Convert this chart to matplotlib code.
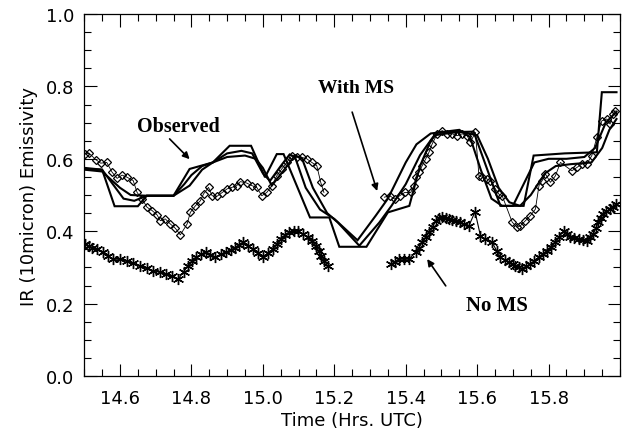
import matplotlib
matplotlib.use("Agg")
import matplotlib.pyplot as plt
from matplotlib.ticker import MultipleLocator, FormatStrFormatter

# observed emissivity (diamonds), two flight legs
obs1_t = [14.502, 14.513, 14.532, 14.546, 14.563, 14.578, 14.592, 14.606, 14.620, 14.637,
          14.648, 14.662, 14.676, 14.690, 14.704, 14.713, 14.727, 14.741, 14.755, 14.769,
          14.788, 14.797, 14.811, 14.825, 14.834, 14.848, 14.858, 14.871, 14.885, 14.900,
          14.913, 14.927, 14.937, 14.955, 14.969, 14.983, 14.997, 15.011, 15.025, 15.039,
          15.053, 15.067, 15.081, 15.095, 15.109, 15.123, 15.137, 15.151, 15.162, 15.171]
obs1_v = [0.613, 0.616, 0.598, 0.588, 0.590, 0.563, 0.546, 0.555, 0.549, 0.540,
          0.507, 0.489, 0.466, 0.457, 0.445, 0.429, 0.434, 0.420, 0.408, 0.390,
          0.420, 0.452, 0.470, 0.484, 0.503, 0.521, 0.498, 0.496, 0.506, 0.517,
          0.521, 0.526, 0.537, 0.533, 0.526, 0.521, 0.498, 0.507, 0.526, 0.553,
          0.572, 0.590, 0.609, 0.604, 0.604, 0.600, 0.590, 0.581, 0.535, 0.507]
obs2_t = [15.340, 15.355, 15.369, 15.383, 15.397, 15.414, 15.423, 15.428, 15.437, 15.446,
          15.456, 15.465, 15.474, 15.488, 15.502, 15.516, 15.530, 15.544, 15.558, 15.572,
          15.581, 15.595, 15.605, 15.614, 15.628, 15.637, 15.651, 15.660, 15.670, 15.698,
          15.712, 15.721, 15.735, 15.749, 15.763, 15.773, 15.782, 15.791, 15.805, 15.819,
          15.833, 15.865, 15.879, 15.893, 15.907, 15.921, 15.935, 15.949, 15.963, 15.972,
          15.981, 15.986]
obs2_v = [0.494, 0.498, 0.489, 0.498, 0.507, 0.507, 0.526, 0.549, 0.563, 0.581,
          0.600, 0.618, 0.641, 0.669, 0.678, 0.669, 0.669, 0.664, 0.669, 0.664,
          0.646, 0.673, 0.553, 0.549, 0.544, 0.540, 0.517, 0.503, 0.498, 0.425,
          0.411, 0.415, 0.429, 0.443, 0.461, 0.526, 0.540, 0.558, 0.535, 0.553,
          0.590, 0.567, 0.576, 0.586, 0.586, 0.609, 0.659, 0.705, 0.710, 0.696,
          0.724, 0.733]

# model without multiple scattering (asterisks)
noms1_t = [14.502, 14.512, 14.521, 14.535, 14.553, 14.567, 14.581, 14.600, 14.619, 14.637,
           14.656, 14.675, 14.693, 14.712, 14.730, 14.747, 14.763, 14.778, 14.791, 14.803,
           14.814, 14.828, 14.842, 14.853, 14.865, 14.882, 14.898, 14.910, 14.921, 14.933,
           14.944, 14.958, 14.972, 14.986, 15.000, 15.014, 15.028, 15.040, 15.051, 15.063,
           15.074, 15.086, 15.098, 15.112, 15.125, 15.137, 15.149, 15.156, 15.163, 15.172,
           15.181]
noms1_v = [0.365, 0.360, 0.355, 0.350, 0.342, 0.332, 0.323, 0.322, 0.319, 0.312,
           0.305, 0.298, 0.291, 0.286, 0.282, 0.276, 0.268, 0.288, 0.305, 0.318,
           0.328, 0.337, 0.342, 0.334, 0.328, 0.336, 0.342, 0.348, 0.355, 0.362,
           0.369, 0.360, 0.351, 0.340, 0.328, 0.340, 0.351, 0.365, 0.378, 0.390,
           0.397, 0.401, 0.400, 0.392, 0.383, 0.372, 0.360, 0.346, 0.332, 0.318,
           0.305]
noms2_t = [15.358, 15.370, 15.381, 15.395, 15.409, 15.428, 15.437, 15.446, 15.456, 15.465,
           15.475, 15.484, 15.493, 15.502, 15.512, 15.521, 15.530, 15.540, 15.552, 15.563,
           15.577, 15.594, 15.609, 15.623, 15.642, 15.655, 15.665, 15.677, 15.688, 15.700,
           15.707, 15.716, 15.725, 15.737, 15.749, 15.760, 15.772, 15.783, 15.795, 15.807,
           15.819, 15.830, 15.842, 15.851, 15.860, 15.872, 15.884, 15.895, 15.907, 15.916,
           15.925, 15.932, 15.939, 15.946, 15.953, 15.962, 15.972, 15.981, 15.990]
noms2_v = [0.309, 0.316, 0.323, 0.323, 0.323, 0.342, 0.355, 0.369, 0.383, 0.397,
           0.413, 0.429, 0.436, 0.438, 0.436, 0.434, 0.430, 0.429, 0.425, 0.420,
           0.415, 0.454, 0.388, 0.378, 0.369, 0.345, 0.328, 0.320, 0.314, 0.309,
           0.305, 0.300, 0.296, 0.303, 0.309, 0.318, 0.328, 0.337, 0.346, 0.357,
           0.369, 0.385, 0.401, 0.392, 0.383, 0.380, 0.378, 0.376, 0.374, 0.383,
           0.392, 0.408, 0.425, 0.437, 0.448, 0.455, 0.461, 0.468, 0.475]

# model with multiple scattering, three runs (solid lines)
ms_a_t = [14.50, 14.55, 14.58, 14.61, 14.64, 14.675, 14.75, 14.78, 14.80, 14.83,
          14.86, 14.90, 14.94, 14.97, 15.00, 15.02, 15.05, 15.075, 15.09, 15.12,
          15.16, 15.20, 15.265, 15.316, 15.35, 15.40, 15.43, 15.47, 15.55, 15.58,
          15.61, 15.64, 15.67, 15.70, 15.73, 15.76, 15.80, 15.85, 15.90, 15.93,
          15.96, 15.99]
ms_a_v = [0.575, 0.570, 0.530, 0.490, 0.484, 0.498, 0.498, 0.530, 0.555, 0.580,
          0.590, 0.615, 0.622, 0.615, 0.560, 0.539, 0.580, 0.612, 0.605, 0.520,
          0.460, 0.434, 0.375, 0.443, 0.490, 0.590, 0.640, 0.670, 0.680, 0.660,
          0.570, 0.490, 0.470, 0.470, 0.530, 0.590, 0.600, 0.600, 0.605, 0.630,
          0.700, 0.730]
ms_b_t = [14.50, 14.55, 14.60, 14.63, 14.675, 14.75, 14.795, 14.83, 14.86, 14.90,
          14.95, 14.98, 15.00, 15.025, 15.06, 15.09, 15.11, 15.14, 15.18, 15.21,
          15.27, 15.326, 15.36, 15.40, 15.44, 15.48, 15.55, 15.60, 15.63, 15.66,
          15.69, 15.72, 15.75, 15.79, 15.82, 15.86, 15.92, 15.95, 15.97, 15.99]
ms_b_v = [0.570, 0.565, 0.520, 0.500, 0.498, 0.498, 0.526, 0.570, 0.590, 0.605,
          0.609, 0.600, 0.575, 0.526, 0.570, 0.610, 0.600, 0.520, 0.450, 0.424,
          0.360, 0.424, 0.470, 0.530, 0.610, 0.665, 0.675, 0.665, 0.600, 0.520,
          0.480, 0.470, 0.500, 0.560, 0.580, 0.585, 0.590, 0.630, 0.680, 0.710]
ms_c_t = [14.50, 14.55, 14.585, 14.65, 14.675, 14.75, 14.795, 14.86, 14.907, 14.967,
          15.006, 15.039, 15.058, 15.132, 15.186, 15.214, 15.29, 15.35, 15.41, 15.44,
          15.47, 15.49, 15.59, 15.665, 15.73, 15.758, 15.845, 15.935, 15.949, 15.99]
ms_c_v = [0.572, 0.570, 0.469, 0.469, 0.498, 0.498, 0.572, 0.590, 0.636, 0.636,
          0.549, 0.613, 0.613, 0.438, 0.438, 0.357, 0.357, 0.452, 0.470, 0.580,
          0.650, 0.673, 0.675, 0.470, 0.470, 0.609, 0.615, 0.618, 0.784, 0.784]

fig = plt.figure(figsize=(6.24, 4.35), dpi=100)
ax = fig.add_axes([0.135, 0.1333, 0.8587, 0.8322])

# with MS runs
for tt, vv in [(ms_a_t, ms_a_v), (ms_b_t, ms_b_v), (ms_c_t, ms_c_v)]:
    ax.plot(tt, vv, color="black", lw=1.5, solid_joinstyle="miter")

# observed
for tt, vv in [(obs1_t, obs1_v), (obs2_t, obs2_v)]:
    ax.plot(tt, vv, color="black", lw=0.6, marker="D", markersize=4.5,
            markerfacecolor="none", markeredgecolor="black", markeredgewidth=0.9)

# no MS
for tt, vv in [(noms1_t, noms1_v), (noms2_t, noms2_v)]:
    ax.plot(tt, vv, color="black", lw=0.8, marker=(6, 2, 0), markersize=8,
            markeredgewidth=1.0, markeredgecolor="black")

# labels with arrows
serif = ["Liberation Serif", "DejaVu Serif"]
arrow = dict(arrowstyle="-|>", color="black", lw=1.2, mutation_scale=10, shrinkA=0, shrinkB=0)
ax.text(14.764, 0.691, "Observed", family=serif, fontsize=14.5, fontweight="bold",
        ha="center", va="center")
ax.annotate("", xy=(14.795, 0.599), xytext=(14.739, 0.655), arrowprops=arrow)
ax.text(15.261, 0.798, "With MS", family=serif, fontsize=14, fontweight="bold",
        ha="center", va="center")
ax.annotate("", xy=(15.32, 0.511), xytext=(15.25, 0.729), arrowprops=arrow)
ax.text(15.655, 0.197, "No MS", family=serif, fontsize=15, fontweight="bold",
        ha="center", va="center")
ax.annotate("", xy=(15.46, 0.323), xytext=(15.512, 0.249), arrowprops=arrow)

ax.set_xlim(14.5, 16.0)
ax.set_ylim(0.0, 1.0)
ax.set_xticks([14.6, 14.8, 15.0, 15.2, 15.4, 15.6, 15.8])
ax.xaxis.set_minor_locator(MultipleLocator(0.05))
ax.yaxis.set_major_locator(MultipleLocator(0.2))
ax.yaxis.set_minor_locator(MultipleLocator(0.05))
ax.xaxis.set_major_formatter(FormatStrFormatter("%.1f"))
ax.yaxis.set_major_formatter(FormatStrFormatter("%.1f"))
ax.tick_params(which="both", direction="in", top=True, right=True, labelsize=13)
ax.tick_params(which="major", length=9, width=0.8)
ax.tick_params(which="minor", length=5, width=0.8)
ax.tick_params(axis="x", pad=9)
ax.tick_params(axis="y", pad=7)
for s in ax.spines.values():
    s.set_linewidth(0.9)

ax.set_xlabel("Time (Hrs. UTC)", fontsize=13, labelpad=3)
ax.set_ylabel("IR (10micron) Emissivity", fontsize=13, labelpad=6)

fig.savefig("out.png", dpi=100)
